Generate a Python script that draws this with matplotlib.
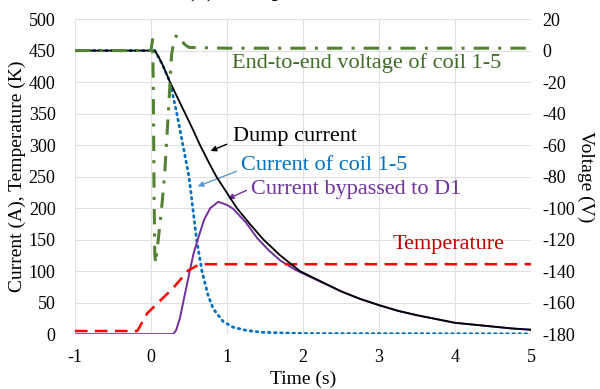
import matplotlib
matplotlib.use("Agg")
from matplotlib import pyplot as plt

plt.rcParams['font.family'] = ['Liberation Serif', 'DejaVu Serif']
plt.rcParams['axes.unicode_minus'] = False

# Dump current (A)
dump_t = [-1, 0.05, 0.1, 0.15, 0.25, 0.35, 0.45, 0.55, 0.645, 0.75, 0.86, 1.0, 1.13, 1.3, 1.48, 1.7, 1.96, 2.18,
          2.5, 2.75, 3.0, 3.25, 3.5, 3.75, 4.0, 4.25, 4.5, 4.75, 5.0]
dump_i = [450, 450, 440, 428, 400, 375, 350, 325, 300, 275, 250, 224, 200, 175, 150, 125, 100, 87,
          68, 56, 46, 37, 30, 24, 18, 15, 12, 9, 7]

# Current of coil 1-5 (A)
coil_t = [-1, 0.05, 0.15, 0.25, 0.34, 0.42, 0.5, 0.55, 0.6, 0.67, 0.75, 0.82, 0.95, 1.08, 1.25, 1.45, 2.0, 5.0]
coil_i = [450, 450, 428, 400, 350, 300, 250, 200, 150, 100, 62, 40, 20, 11, 6, 3, 1, 0.5]

# Current bypassed to D1 (A)
d1_t = [-1, 0.29, 0.33, 0.38, 0.44, 0.51, 0.56, 0.62, 0.7, 0.78, 0.885, 1.0, 1.08, 1.25, 1.4, 1.55, 1.7, 1.9, 2.18,
        2.5, 2.75, 3.0, 3.25, 3.5, 3.75, 4.0, 4.25, 4.5, 4.75, 5.0]
d1_i = [0, 0, 6, 25, 60, 100, 128, 152, 182, 200, 210, 205, 199, 177, 152, 133, 117, 102, 86,
        68, 56, 46, 37, 30, 24, 18, 15, 12, 9, 7]

# Temperature (K)
temp_t = [-1, -0.18, -0.05, 0.29, 0.49, 0.64, 5.0]
temp_k = [5, 5, 33, 73, 101, 111, 111]

# End-to-end voltage of coil 1-5 (V)
volt_t = [-1, 0.0, 0.02, 0.03, 0.04, 0.05, 0.06, 0.1, 0.14, 0.18, 0.23, 0.27, 0.3, 0.34, 0.38, 0.44, 0.5, 1.0, 5.0]
volt_v = [0, 0, 7, -20, -90, -129, -135, -118, -100, -78, -38, -3, 6, 10, 8, 4, 2, 1.5, 1.5]

fig = plt.figure(figsize=(6, 3.89), dpi=100)
ax = fig.add_axes([0.125, 0.141, 0.76, 0.81])
ax2 = ax.twinx()

ax.plot(dump_t, dump_i, color='black', lw=1.3, zorder=4)
ax.plot(coil_t, coil_i, color='#0070c0', lw=2, ls=(0, (0.6, 1.6)), dash_capstyle='round', zorder=3)
ax.plot(d1_t, d1_i, color='#7030a0', lw=1.4, zorder=3)
ax.plot(temp_t, temp_k, color='#ff0000', lw=1.8, ls=(0, (5, 3)), zorder=3)
ax2.plot(volt_t, volt_v, color='#548235', lw=2.2, ls=(0, (5, 3, 1, 3)), zorder=3)

ax.set_xlim(-1, 5)
ax.set_ylim(0, 500)
ax2.set_ylim(-180, 20)
ax.set_xticks(range(-1, 6))
ax.set_yticks(range(0, 501, 50))
ax2.set_yticks(range(-180, 21, 20))
ax.grid(True, color='#e0e0e0', lw=0.8)
ax.set_axisbelow(True)
for a in (ax, ax2):
    for s in a.spines.values():
        s.set_visible(False)
ax.tick_params(axis='y', length=0, labelsize=13, pad=14)
ax.tick_params(axis='x', length=0, labelsize=13, pad=11)
ax2.tick_params(axis='y', length=0, labelsize=13, pad=8)
ax.set_xlabel('Time (s)', fontsize=14, labelpad=3)
ax.set_ylabel('Current (A), Temperature (K)', fontsize=14, labelpad=2)
ax2.set_ylabel('Voltage (V)', fontsize=14, rotation=270, labelpad=14)

# annotations
ax.text(1.07, 430, 'End-to-end voltage of coil 1-5', color='#3f6b25', fontsize=16, va='center')
ax.text(1.08, 313, 'Dump current', color='black', fontsize=16, va='center')
ax.text(1.18, 268, 'Current of coil 1-5', color='#0070c0', fontsize=16, va='center')
ax.text(1.32, 229, 'Current bypassed to D1', color='#7030a0', fontsize=16, va='center')
ax.text(3.18, 143, 'Temperature', color='#c00000', fontsize=16, va='center')
ax.annotate('', xy=(0.75, 289), xytext=(1.03, 303),
            arrowprops=dict(arrowstyle='-|>', color='black', lw=1, mutation_scale=8))
ax.annotate('', xy=(0.58, 233), xytext=(1.16, 260),
            arrowprops=dict(arrowstyle='-|>', color='#5b9bd5', lw=1, mutation_scale=8))
ax.annotate('', xy=(0.98, 213), xytext=(1.29, 230),
            arrowprops=dict(arrowstyle='-|>', color='#7030a0', lw=1, mutation_scale=8))

# title sits mostly above the figure, only its descenders show
fig.text(0.31, 1.008, '(b) Dump', fontsize=18, va='baseline')

fig.savefig('out.png', dpi=100)
